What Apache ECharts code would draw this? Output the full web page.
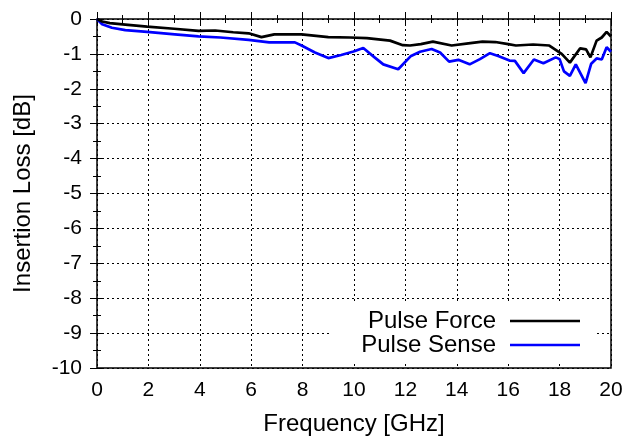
<!DOCTYPE html>
<html>
<head>
<meta charset="utf-8">
<script src="https://cdn.jsdelivr.net/npm/echarts@6/dist/echarts.min.js"></script>
<style>html,body{margin:0;padding:0;background:#fff}#c{width:638px;height:442px}</style>
</head>
<body>
<div id="c"></div>
<script>
var freqForce = [0, 0.2, 0.5, 1.1, 1.95, 3.0, 3.95, 4.6, 5.3, 5.9, 6.4, 6.9, 7.96, 9.0, 9.84, 10.5, 11.4, 11.9, 12.18, 12.6, 13.07, 13.8, 14.45, 15.0, 15.5, 16.0, 16.3, 16.97, 17.6, 18.08, 18.4, 18.8, 19.03, 19.2, 19.44, 19.64, 19.83, 20];
var lossForce = [0, -0.07, -0.12, -0.16, -0.22, -0.28, -0.34, -0.33, -0.38, -0.41, -0.52, -0.44, -0.44, -0.52, -0.53, -0.55, -0.62, -0.75, -0.76, -0.72, -0.65, -0.76, -0.7, -0.65, -0.66, -0.72, -0.76, -0.73, -0.76, -1.0, -1.25, -0.84, -0.87, -1.1, -0.62, -0.53, -0.37, -0.5];
var freqSense = [0, 0.2, 0.58, 1.1, 1.95, 3.03, 3.95, 4.8, 5.9, 6.7, 7.7, 7.96, 8.48, 9.0, 9.5, 9.98, 10.36, 10.8, 11.14, 11.72, 12.2, 12.57, 13.02, 13.35, 13.7, 14.06, 14.5, 14.9, 15.29, 15.61, 16.05, 16.26, 16.6, 17.0, 17.37, 17.85, 18.0, 18.17, 18.4, 18.63, 19.01, 19.23, 19.44, 19.64, 19.83, 20];
var lossSense = [0, -0.15, -0.25, -0.32, -0.37, -0.44, -0.5, -0.53, -0.6, -0.67, -0.67, -0.76, -0.96, -1.12, -1.03, -0.93, -0.83, -1.1, -1.3, -1.44, -1.07, -0.94, -0.86, -0.96, -1.22, -1.17, -1.3, -1.15, -0.98, -1.06, -1.19, -1.2, -1.55, -1.16, -1.27, -1.1, -1.15, -1.5, -1.63, -1.3, -1.84, -1.28, -1.13, -1.16, -0.81, -0.94];
var xTicks = [0, 2, 4, 6, 8, 10, 12, 14, 16, 18, 20];
var yTicks = [0, -1, -2, -3, -4, -5, -6, -7, -8, -9, -10];

function pairs(xs, ys) { return xs.map(function (x, i) { return [x, ys[i]]; }); }

var FONT = 'Liberation Sans, Arial, Helvetica, sans-serif';
var FS = 21;
var FT = 24;
var tickStyle = { show: true, inside: true, length: 7, lineStyle: { color: '#000', width: 1 } };
var minorStyle = { show: true, splitNumber: 2, length: 4, lineStyle: { color: '#000', width: 1 } };
var gridStyle = { show: true, lineStyle: { color: '#000', width: 1, type: [2, 3] } };

var chart = echarts.init(document.getElementById('c'), null, { renderer: 'canvas' });
chart.setOption({
  animation: false,
  backgroundColor: '#fff',
  grid: { left: 97, right: 27, top: 19, bottom: 74, show: true, borderColor: '#000', borderWidth: 1.5, backgroundColor: 'transparent' },
  legend: {
    orient: 'vertical',
    align: 'right',
    right: 43,
    top: 303,
    padding: [6, 15, 6, 30],
    backgroundColor: '#fff',
    icon: 'rect',
    itemWidth: 70,
    itemHeight: 2.6,
    itemGap: 0,
    textStyle: { fontFamily: FONT, fontSize: FT, color: '#000', padding: [0, 9, 0, 0], lineHeight: 23 },
    data: ['Pulse Force', 'Pulse Sense']
  },
  xAxis: [{
    type: 'value', min: 0, max: 20, interval: 2,
    name: 'Frequency [GHz]', nameLocation: 'middle', nameGap: 44,
    nameTextStyle: { fontFamily: FONT, fontSize: FT, color: '#000' },
    axisLine: { show: false },
    axisTick: tickStyle, minorTick: minorStyle, splitLine: gridStyle,
    axisLabel: { fontFamily: FONT, fontSize: FS, color: '#000', margin: 12,
      formatter: function (v) { return xTicks.indexOf(v) >= 0 ? String(v) : ''; } }
  }, {
    type: 'value', position: 'top', min: 0, max: 20, interval: 2,
    axisLine: { show: false }, axisTick: tickStyle, minorTick: minorStyle,
    splitLine: { show: false }, axisLabel: { show: false }
  }],
  yAxis: [{
    type: 'value', min: -10, max: 0, interval: 1,
    name: 'Insertion Loss [dB]', nameLocation: 'middle', nameGap: 62,
    nameTextStyle: { fontFamily: FONT, fontSize: FT, color: '#000' },
    axisLine: { show: false },
    axisTick: tickStyle, minorTick: minorStyle, splitLine: gridStyle,
    axisLabel: { fontFamily: FONT, fontSize: FS, color: '#000', margin: 15,
      formatter: function (v) { return yTicks.indexOf(v) >= 0 ? String(v) : ''; } }
  }, {
    type: 'value', position: 'right', min: -10, max: 0, interval: 1,
    axisLine: { show: false }, axisTick: tickStyle, minorTick: minorStyle,
    splitLine: { show: false }, axisLabel: { show: false }
  }],
  series: [{
    name: 'Pulse Force', type: 'line', symbol: 'none', smooth: false,
    data: pairs(freqForce, lossForce),
    lineStyle: { color: '#000', width: 2.7 }, itemStyle: { color: '#000' }, z: 3
  }, {
    name: 'Pulse Sense', type: 'line', symbol: 'none', smooth: false,
    data: pairs(freqSense, lossSense),
    lineStyle: { color: '#0000ff', width: 2.7 }, itemStyle: { color: '#0000ff' }, z: 2
  }]
});
</script>
</body>
</html>
